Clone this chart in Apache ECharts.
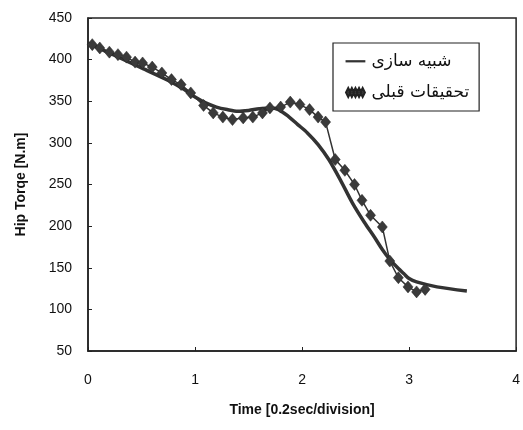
<!DOCTYPE html>
<html>
<head>
<meta charset="utf-8">
<script src="https://cdn.jsdelivr.net/npm/echarts@6/dist/echarts.min.js"></script>
<style>
    html, body { margin: 0; padding: 0; background: #fff; }
    #chartDiv { width: 523px; height: 430px; }
</style>
</head>
<body>
<div id="chartDiv"></div>
<script>
// simulation (solid line)
var simTime = [0, 0.25, 0.5, 0.75, 0.9, 1.0, 1.1, 1.2, 1.3, 1.4, 1.5, 1.6, 1.7, 1.78, 1.88, 1.96, 2.05, 2.15, 2.25, 2.36, 2.47, 2.58, 2.68, 2.75, 2.82, 2.9, 2.95, 3.0, 3.07, 3.26, 3.54];
var simTorque = [420, 405, 390, 375, 364, 355, 348, 343, 340, 338, 339, 341, 342, 340, 331, 322, 312, 298, 280, 255, 228, 205, 186, 172, 160, 149, 143, 137, 133, 127, 122];

// previous research (diamonds)
var prevTime = [0.04, 0.11, 0.2, 0.28, 0.36, 0.44, 0.51, 0.6, 0.69, 0.78, 0.87, 0.96, 1.08, 1.17, 1.26, 1.35, 1.45, 1.54, 1.63, 1.7, 1.8, 1.89, 1.98, 2.07, 2.15, 2.22, 2.31, 2.4, 2.49, 2.56, 2.64, 2.75, 2.82, 2.9, 2.99, 3.07, 3.15];
var prevTorque = [418, 414, 409, 406, 403, 397, 396, 391, 384, 376, 370, 360, 345, 336, 331, 328, 330, 331, 336, 342, 343, 349, 346, 340, 331, 325, 280, 267, 250, 231, 213, 199, 158, 138, 127, 121, 124];

var simName = 'شبیه سازی';
var prevName = 'تحقیقات قبلی';

function pairs(xs, ys) {
    return xs.map(function (x, i) {
        return [x, ys[i]];
    });
}

var myChart = echarts.init(document.getElementById('chartDiv'));
myChart.setOption({
    animation: false,
    textStyle: { fontFamily: 'Liberation Sans, Arial, sans-serif', color: '#111' },
    grid: {
        left: 88,
        right: 3,
        top: 18,
        bottom: 79,
        show: true,
        borderColor: '#222',
        borderWidth: 1.5
    },
    legend: {
        orient: 'vertical',
        left: 333,
        top: 43,
        padding: [10, 10, 10, 12],
        itemGap: 14,
        itemWidth: 22,
        itemHeight: 9,
        borderColor: '#222',
        borderWidth: 1.2,
        textStyle: { fontFamily: 'DejaVu Sans', fontSize: 17, color: '#111' },
        data: [
            { name: simName, icon: 'path://M0,0L0,0M0,3.5L22,3.5L22,6L0,6ZM0,10L0,10' },
            { name: prevName, icon: 'path://M0,5L2.5,0L5,5L2.5,10Z M4,5L6.5,0L9,5L6.5,10Z M8,5L10.5,0L13,5L10.5,10Z M12,5L14.5,0L17,5L14.5,10Z M16,5L18.5,0L21,5L18.5,10Z' }
        ]
    },
    xAxis: {
        type: 'value',
        min: 0,
        max: 4,
        interval: 1,
        name: 'Time [0.2sec/division]',
        nameLocation: 'middle',
        nameGap: 52,
        nameTextStyle: { fontSize: 14, fontWeight: 'bold', color: '#111' },
        axisLine: { onZero: false, lineStyle: { color: '#222', width: 1.5 } },
        axisTick: { inside: true, length: 4, lineStyle: { color: '#222' } },
        axisLabel: { fontSize: 14, margin: 22, color: '#111' },
        splitLine: { show: false }
    },
    yAxis: {
        type: 'value',
        min: 50,
        max: 450,
        interval: 50,
        name: 'Hip Torqe [N.m]',
        nameLocation: 'middle',
        nameGap: 60,
        nameTextStyle: { fontSize: 14, fontWeight: 'bold', color: '#111' },
        axisLine: { show: true, onZero: false, lineStyle: { color: '#222', width: 1.5 } },
        axisTick: { inside: true, length: 4, lineStyle: { color: '#222' } },
        axisLabel: { fontSize: 14, margin: 16, color: '#111' },
        splitLine: { show: false }
    },
    series: [
        {
            name: simName,
            type: 'line',
            symbol: 'none',
            smooth: 0.3,
            data: pairs(simTime, simTorque),
            lineStyle: { color: '#333', width: 3.5 },
            itemStyle: { color: '#333' }
        },
        {
            name: prevName,
            type: 'line',
            symbol: 'diamond',
            symbolSize: [10, 12],
            data: pairs(prevTime, prevTorque),
            lineStyle: { color: '#333', width: 1.5 },
            itemStyle: { color: '#3a3a3a', borderColor: '#222', borderWidth: 0.5 }
        }
    ]
});
</script>
</body>
</html>
